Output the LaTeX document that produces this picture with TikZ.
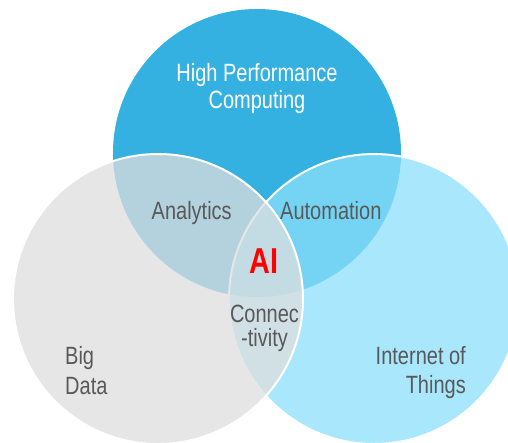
\documentclass[tikz,border=0pt]{standalone}
\usepackage{fontspec}
\setmainfont{Liberation Sans}[FakeStretch=0.8]
\definecolor{hpcblue}{RGB}{52,177,224}
\definecolor{iotblue}{RGB}{140,224,251}
\definecolor{bdgray}{RGB}{222,222,222}
\definecolor{labelgray}{RGB}{89,89,89}
\definecolor{aired}{RGB}{255,0,0}
\tikzset{
  ring/.style={draw=white, line width=2pt, fill opacity=0.75},
  lbl/.style={inner sep=0pt, text=labelgray, align=center},
}
\begin{document}
\begin{tikzpicture}[x=1pt,y=-1pt]
\useasboundingbox (0,0) rectangle (508,442);
\clip (0,0) rectangle (508,442);
% circles
\fill[hpcblue] (257,153) circle[radius=144pt];
\draw[ring, fill=iotblue] (374,299) circle[radius=145pt];
\draw[ring, fill=bdgray] (158,299) circle[radius=145pt];
% labels (multi-line nodes: base = last line)
\node[lbl, text=white, anchor=base, font={\fontsize{25}{27.5}\selectfont}] (hpc) at (257,108.5) {High Performance\\Computing};
\node[lbl, anchor=base, font={\fontsize{25}{28}\selectfont}] (ana) at (191.7,219) {Analytics};
\node[lbl, anchor=base, font={\fontsize{25}{28}\selectfont}] (aut) at (330.8,219) {Automation};
\node[lbl, text=aired, anchor=base, font={\fontsize{36}{40}\selectfont\bfseries}] (ai) at (264,273.3) {AI};
\node[lbl, anchor=base, font={\fontsize{25}{24.3}\selectfont}] (con) at (264.5,346.5) {Connec\\-tivity};
\node[lbl, align=left, anchor=base west, font={\fontsize{25}{30}\selectfont}] (bd) at (65,394) {Big\\Data};
\node[lbl, align=right, anchor=base east, font={\fontsize{25}{29}\selectfont}] (iot) at (466,393.3) {Internet of\\Things};
\end{tikzpicture}
\end{document}
